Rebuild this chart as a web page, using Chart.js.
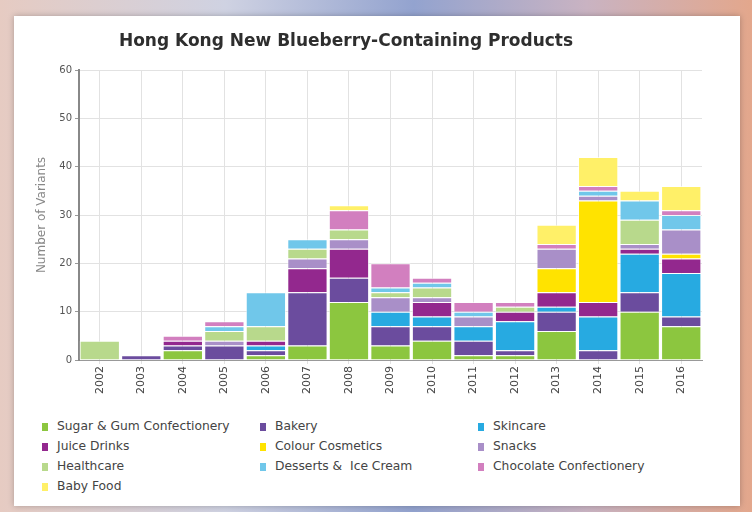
<!DOCTYPE html>
<html>
<head>
<meta charset="utf-8">
<title>Hong Kong New Blueberry-Containing Products</title>
<script src="https://cdn.jsdelivr.net/npm/chart.js@4.4.1/dist/chart.umd.min.js"></script>
<style>
  html, body { margin: 0; padding: 0; }
  body {
    width: 752px; height: 512px; overflow: hidden; position: relative;
    background: linear-gradient(90deg, #e6cbc2 0%, #cfd2e2 30%, #93a3cf 55%, #c9b3c2 78%, #e3a78c 100%);
    font-family: "DejaVu Sans", Verdana, sans-serif;
  }
  #card {
    position: absolute; left: 14px; top: 16px; width: 726px; height: 490px;
    background: #fff; box-shadow: 0 0 6px rgba(0, 0, 0, 0.25);
  }
  #chartBox { position: absolute; left: 0; top: 0; width: 726px; height: 384px; }
  #legend {
    position: absolute; left: 28px; top: 400px;
    display: grid; grid-template-columns: 218px 218px 218px;
  }
  .item { height: 20px; line-height: 20px; font-size: 12.3px; color: #444; white-space: pre; }
  .swatch { display: inline-block; width: 6px; height: 8px; margin-right: 9px; vertical-align: -1px; }
</style>
</head>
<body>
<div id="card">
  <div id="chartBox"><canvas id="blueberryChart"></canvas></div>
  <div id="legend"></div>
</div>

<script>
// ------------------ Data ------------------
const chartTitle = "Hong Kong New Blueberry-Containing Products";
const years = ["2002", "2003", "2004", "2005", "2006", "2007", "2008", "2009",
               "2010", "2011", "2012", "2013", "2014", "2015", "2016"];

const sugarGum     = [0, 0, 2, 0, 1, 3, 12, 3, 4, 1, 1, 6, 0, 10, 7];
const bakery       = [0, 1, 1, 3, 1, 11, 5, 4, 3, 3, 1, 4, 2, 4, 2];
const skincare     = [0, 0, 0, 0, 1, 0, 0, 3, 2, 3, 6, 1, 7, 8, 9];
const juiceDrinks  = [0, 0, 1, 0, 1, 5, 6, 0, 3, 0, 2, 3, 3, 1, 3];
const cosmetics    = [0, 0, 0, 0, 0, 0, 0, 0, 0, 0, 0, 5, 21, 0, 1];
const snacks       = [0, 0, 0, 1, 0, 2, 2, 3, 1, 2, 0, 4, 1, 1, 5];
const healthcare   = [4, 0, 0, 2, 3, 2, 2, 1, 2, 0, 1, 0, 0, 5, 0];
const desserts     = [0, 0, 0, 1, 7, 2, 0, 1, 1, 1, 0, 0, 1, 4, 3];
const chocolate    = [0, 0, 1, 1, 0, 0, 4, 5, 1, 2, 1, 1, 1, 0, 1];
const babyFood     = [0, 0, 0, 0, 0, 0, 1, 0, 0, 0, 0, 4, 6, 2, 5];

const yTicks = [0, 10, 20, 30, 40, 50, 60];

// ------------------ Series setup ------------------
const series = [
  { label: "Sugar & Gum Confectionery", data: sugarGum, color: "#8cc63f" },
  { label: "Bakery", data: bakery, color: "#6b4c9e" },
  { label: "Skincare", data: skincare, color: "#27aae1" },
  { label: "Juice Drinks", data: juiceDrinks, color: "#93288e" },
  { label: "Colour Cosmetics", data: cosmetics, color: "#ffe300" },
  { label: "Snacks", data: snacks, color: "#a98fc8" },
  { label: "Healthcare", data: healthcare, color: "#b8d98c" },
  { label: "Desserts &  Ice Cream", data: desserts, color: "#70c7ea" },
  { label: "Chocolate Confectionery", data: chocolate, color: "#d27fbf" },
  { label: "Baby Food", data: babyFood, color: "#fff068" }
];

// title is drawn left of centre, over the plot
const titlePlugin = {
  id: "titleText",
  afterDraw(chart) {
    const ctx = chart.ctx;
    ctx.save();
    ctx.font = 'bold 17px "DejaVu Sans"';
    ctx.fillStyle = "#2e2e2e";
    ctx.textAlign = "center";
    ctx.textBaseline = "middle";
    ctx.fillText(chartTitle, 332, 26);
    ctx.restore();
  }
};

const chart = new Chart(document.getElementById("blueberryChart"), {
  type: "bar",
  data: {
    labels: years,
    datasets: series.map(s => ({
      label: s.label,
      data: s.data,
      backgroundColor: s.color,
      borderColor: "rgba(255,255,255,0.65)",
      borderWidth: 1,
      barPercentage: 1,
      categoryPercentage: 0.97
    }))
  },
  options: {
    responsive: true,
    maintainAspectRatio: false,
    animation: false,
    layout: { padding: { left: 21, right: 38, top: 54, bottom: 0 } },
    plugins: {
      legend: { display: false },
      tooltip: { enabled: false }
    },
    scales: {
      x: {
        stacked: true,
        grid: { offset: false, color: "#e2e2e2", tickLength: 4 },
        border: { color: "#999" },
        ticks: { minRotation: 90, maxRotation: 90, color: "#444", font: { family: "DejaVu Sans", size: 11 }, padding: 2 },
        afterFit(scale) { scale.height = 40; }
      },
      y: {
        stacked: true,
        min: 0,
        max: 60,
        afterBuildTicks(scale) { scale.ticks = yTicks.map(v => ({ value: v })); },
        ticks: { color: "#555", font: { family: "DejaVu Sans", size: 10 }, padding: 3 },
        grid: { color: "#e2e2e2", tickLength: 4, tickColor: "#999" },
        border: { color: "#888", width: 2 },
        title: { display: true, text: "Number of Variants", color: "#888", font: { family: "DejaVu Sans", size: 12 }, padding: 0 },
        afterFit(scale) { scale.width = 44; }
      }
    }
  },
  plugins: [titlePlugin]
});

// ------------------ Legend ------------------
const legendEl = document.getElementById("legend");
chart.data.datasets.forEach(ds => {
  const div = document.createElement("div");
  div.className = "item";
  div.innerHTML = `<span class="swatch" style="background:${ds.backgroundColor}"></span>${ds.label}`;
  legendEl.appendChild(div);
});
</script>
</body>
</html>
